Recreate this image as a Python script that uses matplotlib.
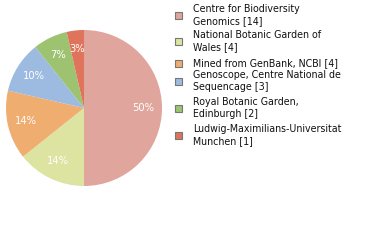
import matplotlib
matplotlib.use("Agg")
import matplotlib.pyplot as plt
from matplotlib.patches import Rectangle

labels = ["Centre for Biodiversity\nGenomics [14]",
          "National Botanic Garden of\nWales [4]",
          "Mined from GenBank, NCBI [4]",
          "Genoscope, Centre National de\nSequencage [3]",
          "Royal Botanic Garden,\nEdinburgh [2]",
          "Ludwig-Maximilians-Universitat\nMunchen [1]"]
counts = [14, 4, 4, 3, 2, 1]
colors = ["#e0a59d", "#dde3a0", "#f0ad70", "#9dbbe0", "#9dc371", "#e0735b"]

W, H = 380, 240
fig = plt.figure(figsize=(W / 100, H / 100), dpi=100)

# pie: centre ~ (84,108), radius ~78 px
ax = fig.add_axes([6 / W, (H - 186) / H, 156 / W, 156 / H])
wedges, texts, autotexts = ax.pie(
    counts, colors=colors, startangle=90, counterclock=False,
    autopct=lambda p: f"{int(p)}%", pctdistance=0.76,
    textprops=dict(color="white", fontsize=7.2, family="DejaVu Sans"))
ax.set_xlim(-1, 1)
ax.set_ylim(-1, 1)
ax.set_aspect("equal")
ax.axis("off")

# legend drawn by hand
ys = [15, 41, 63, 81, 108, 135]
for lab, col, y in zip(labels, colors, ys):
    fig.patches.append(Rectangle((175 / W, (H - y - 3.5) / H), 6.5 / W, 6.5 / H,
                                 transform=fig.transFigure, facecolor=col,
                                 edgecolor="#777777", linewidth=0.8))
    fig.text(193 / W, (H - y) / H, lab, fontsize=6.85, va="center", ha="left",
             linespacing=1.35, color="#111111", family="DejaVu Sans")

fig.savefig("out.png", dpi=100)
